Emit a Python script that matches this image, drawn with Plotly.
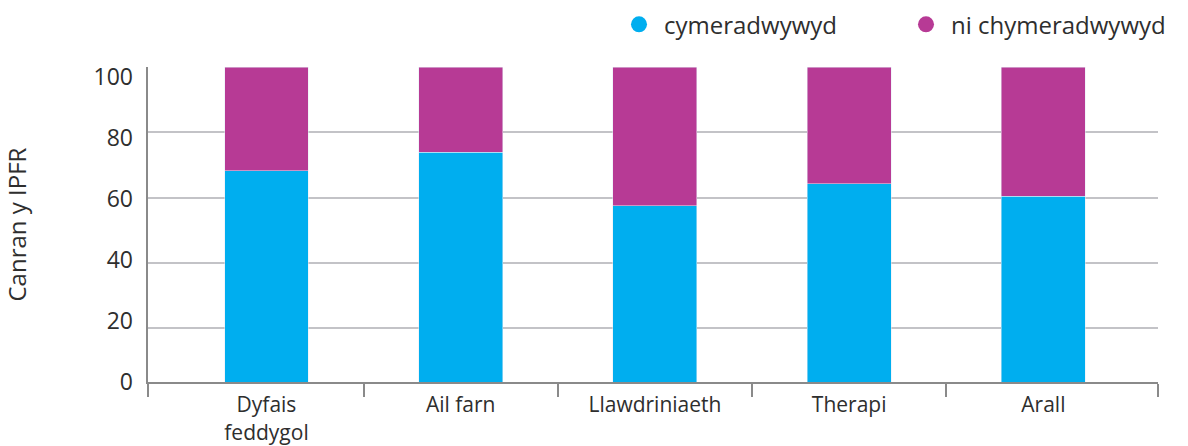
import plotly.graph_objects as go

# Outcome of IPFR requests by type (percent)
categories = ["Dyfais<br>feddygol", "Ail farn", "Llawdriniaeth", "Therapi", "Arall"]
approved = [67, 73, 56, 63, 59]
not_approved = [33, 27, 44, 37, 41]
series_names = ["cymeradwywyd", "ni chymeradwywyd"]
y_ticks = [0, 20, 40, 60, 80, 100]

BLUE = "#00AEEF"
PURPLE = "#B73A95"
TEXT = "#2e2e2e"
AXIS = "#8a8a8a"
GRID = "#c3c3c7"
FONT = "Open Sans"
FS = 23

xpos = list(range(len(categories)))
x_lo, x_hi = -0.61, 4.59

fig = go.Figure()
fig.add_trace(go.Bar(x=xpos, y=approved, marker_color=BLUE, width=0.432,
                     showlegend=False, name=series_names[0]))
fig.add_trace(go.Bar(x=xpos, y=not_approved, marker_color=PURPLE, width=0.432,
                     showlegend=False, name=series_names[1]))

# round legend markers
for name, color in zip(series_names, [BLUE, PURPLE]):
    fig.add_trace(go.Scatter(x=[None], y=[None], mode="markers", name=name,
                             marker=dict(symbol="circle", size=16, color=color)))

fig.update_layout(
    width=1188, height=446,
    margin=dict(l=148, r=30, t=67, b=64, autoexpand=False),
    barmode="stack",
    plot_bgcolor="white", paper_bgcolor="white",
    font=dict(family=FONT, size=FS, color=TEXT),
    legend=dict(orientation="h", traceorder="normal",
                xref="container", x=1.0, xanchor="right",
                yref="container", y=0.995, yanchor="top",
                entrywidth=232, entrywidthmode="pixels", itemwidth=40,
                font=dict(size=24, color=TEXT), itemsizing="trace"),
    xaxis=dict(
        range=[x_lo, x_hi], tickmode="array", tickvals=xpos, ticktext=categories,
        ticks="", showgrid=False, zeroline=False, automargin=False,
        showline=True, linecolor=AXIS, linewidth=2,
        tickfont=dict(size=21, color=TEXT), ticklabelstandoff=3,
        minor=dict(tickmode="array",
                   tickvals=[x_lo + 0.002] + [i + 0.5 for i in xpos[:-1]] + [x_hi - 0.002],
                   ticks="outside", ticklen=13, tickwidth=2, tickcolor=AXIS, showgrid=False),
    ),
    # bar scale
    yaxis=dict(range=[0, 100], showgrid=False, zeroline=False, showticklabels=False,
               ticks="", showline=True, linecolor=AXIS, linewidth=2, automargin=False),
    # gridlines
    yaxis2=dict(overlaying="y", range=[3.41, 100.05], tickmode="array",
                tickvals=y_ticks[1:], showgrid=True, gridcolor=GRID, gridwidth=2,
                zeroline=False, showticklabels=False, ticks="", showline=False,
                automargin=False),
    # tick labels
    yaxis3=dict(overlaying="y", range=[-0.05, 103.3], tickmode="array",
                tickvals=y_ticks, ticktext=[str(v) for v in y_ticks],
                showgrid=False, zeroline=False, ticks="", showline=False,
                automargin=False,
                tickfont=dict(size=FS, color=TEXT), ticklabelstandoff=14),
    annotations=[dict(text="Canran y IPFR", textangle=-90, xref="paper", yref="paper",
                      x=(16 - 148) / 1010, y=0.5, xanchor="center", yanchor="middle",
                      showarrow=False, font=dict(size=24, color=TEXT))],
)

# attach invisible traces so the helper axes are drawn
fig.add_trace(go.Scatter(x=[None], y=[None], yaxis="y2", showlegend=False, hoverinfo="skip"))
fig.add_trace(go.Scatter(x=[None], y=[None], yaxis="y3", showlegend=False, hoverinfo="skip"))

fig.write_html("out.html")
